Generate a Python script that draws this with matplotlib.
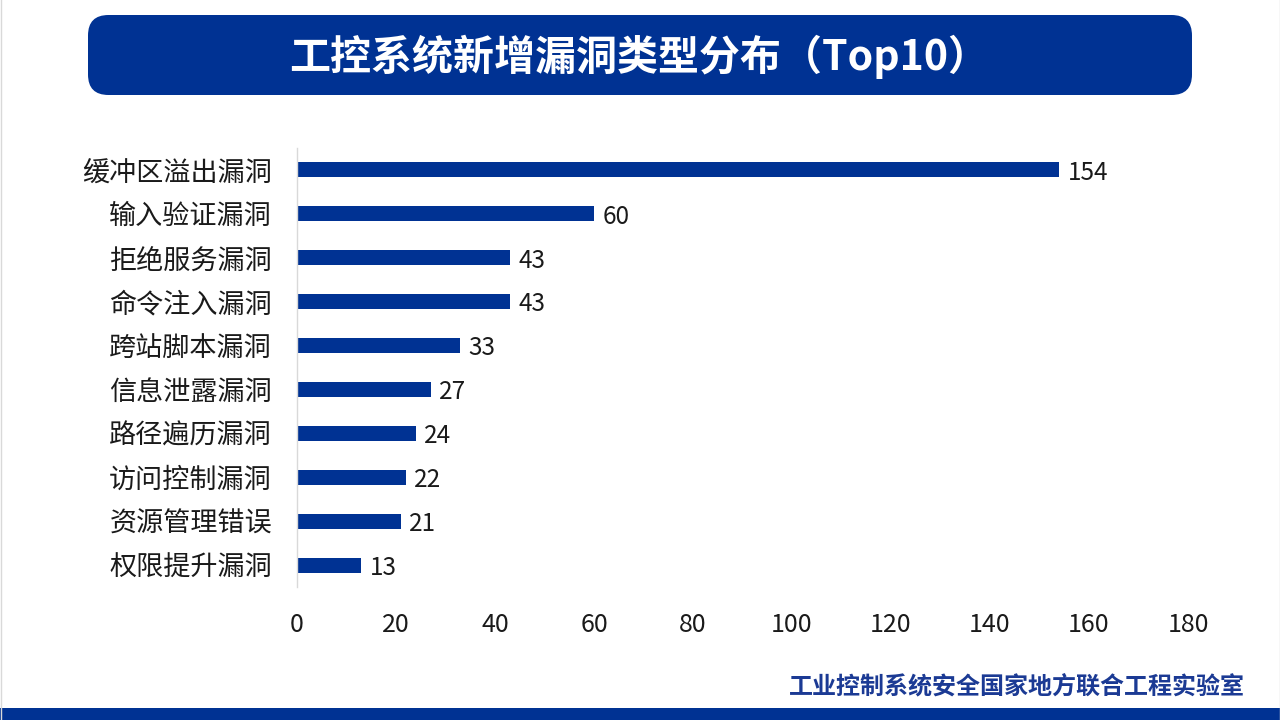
import matplotlib
matplotlib.use("Agg")
import matplotlib.pyplot as plt
from matplotlib.patches import FancyBboxPatch, Rectangle
from matplotlib.lines import Line2D

plt.rcParams['font.family'] = ['Noto Sans CJK SC', 'DejaVu Sans']

categories = ['缓冲区溢出漏洞', '输入验证漏洞', '拒绝服务漏洞', '命令注入漏洞', '跨站脚本漏洞',
              '信息泄露漏洞', '路径遍历漏洞', '访问控制漏洞', '资源管理错误', '权限提升漏洞']
counts = [154, 60, 43, 43, 33, 27, 24, 22, 21, 13]
xticks = [0, 20, 40, 60, 80, 100, 120, 140, 160, 180]

title = '工控系统新增漏洞类型分布（Top10）'
footer = '工业控制系统安全国家地方联合工程实验室'
blue = '#003293'

fig = plt.figure(figsize=(12.8, 7.2), dpi=100)

# thin slide frame at the left and right edges
for xf in (0.5/1280, 1-0.5/1280):
    fig.lines.append(Line2D([xf, xf], [0, 1], transform=fig.transFigure,
                            color='#d9d9d9', lw=1))

# title banner
banner = FancyBboxPatch((88/1280, 1-95/720), (1192-88)/1280, 80/720,
                        boxstyle='round,pad=0,rounding_size=0.016',
                        transform=fig.transFigure, facecolor=blue,
                        edgecolor='none', mutation_aspect=1280/720)
fig.patches.append(banner)
fig.text(639/1280, 1-57/720, title, color='white', fontsize=29.5,
         fontweight='bold', ha='center', va='center')

# bottom strip and footer
fig.patches.append(Rectangle((0, 0), 1, 12/720, transform=fig.transFigure,
                             facecolor=blue, edgecolor='none'))
fig.text(1245/1280, 1-686/720, footer, color='#1b3a94', fontsize=17.3,
         fontweight='bold', ha='right', va='center')

ax = fig.add_axes([297/1280, 1-587/720, (1188-297)/1280, 439/720])
y = list(range(len(categories)))
ax.barh(y, counts, height=0.34, color=blue)
for yi, v in zip(y, counts):
    ax.annotate(str(v), (v, yi), xytext=(6, -2), textcoords='offset points',
                va='center', ha='left', fontsize=17.5, color='#1a1a1a')

ax.set_xlim(0, 180)
ax.set_ylim(len(categories) - 0.5, -0.5)
ax.set_xticks(xticks)
ax.set_yticks(y)
ax.set_yticklabels(categories)
ax.tick_params(axis='y', length=0, pad=18, labelsize=19.5, labelcolor='#1a1a1a')
ax.tick_params(axis='x', length=0, pad=18, labelsize=18, labelcolor='#1a1a1a')
for s in ['top', 'right', 'bottom']:
    ax.spines[s].set_visible(False)
ax.spines['left'].set_color('#d9d9d9')
ax.spines['left'].set_linewidth(1)

fig.savefig('out.png', dpi=100)
